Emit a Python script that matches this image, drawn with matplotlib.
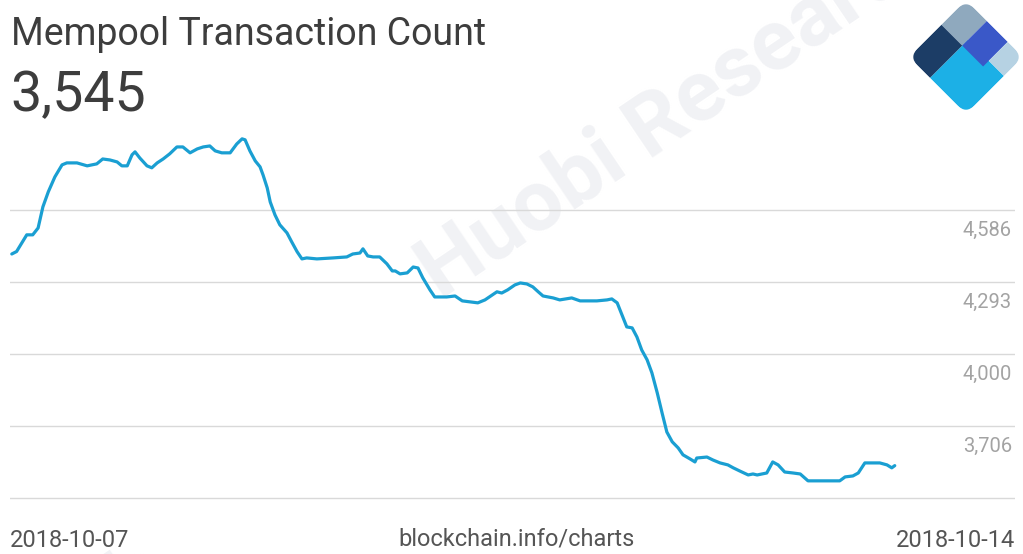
import matplotlib
matplotlib.use("Agg")
import matplotlib.pyplot as plt
from matplotlib.patches import Rectangle, FancyBboxPatch
from matplotlib.transforms import Affine2D, ScaledTranslation

# --- data ---------------------------------------------------------------
hours = [0.3, 1.1, 2.8, 3.8, 4.7, 5.5, 6.4, 7.5, 8.7, 9.5, 11.2, 12.9, 14.5,
         15.5, 16.7, 17.9, 18.7, 19.6, 20.4, 20.9, 21.7, 22.9, 23.7, 24.6,
         25.6, 26.7, 27.9, 28.9, 30.1, 31.3, 32.3, 33.4, 34.3, 35.4, 36.8,
         37.9, 38.8, 39.3, 40.1, 41.0, 41.8, 42.3, 43.0, 43.5, 44.3, 45.1,
         46.3, 47.1, 48.0, 48.8, 49.6, 51.3, 54.0, 56.3, 57.3, 58.5, 59.0,
         59.8, 60.7, 61.8, 63.0, 63.9, 64.4, 65.2, 66.4, 67.4, 68.2, 69.0,
         70.2, 71.0, 73.0, 74.4, 75.6, 76.9, 78.2, 79.4, 80.6, 81.4, 82.2,
         83.2, 84.4, 85.3, 86.4, 87.4, 88.3, 89.1, 90.8, 91.9, 93.9, 95.3,
         98.1, 99.8, 100.6, 101.5, 102.3, 103.1, 104.0, 104.8, 105.6, 106.5,
         107.3, 108.2, 109.0, 109.8, 110.7, 111.7, 112.5, 113.7, 114.5, 114.8,
         116.5, 117.5, 118.7, 120.0, 120.9, 122.0, 123.4, 124.2, 124.9, 126.5,
         127.5, 128.4, 129.5, 130.9, 132.1, 133.4, 135.4, 138.7, 139.6, 140.9,
         141.8, 142.9, 145.4, 146.6, 147.4, 147.9]
tx_count = [4407, 4417, 4485, 4485, 4513, 4599, 4660, 4721, 4770, 4778, 4778,
            4766, 4774, 4794, 4790, 4782, 4766, 4766, 4811, 4823, 4798, 4766,
            4758, 4778, 4794, 4815, 4843, 4843, 4819, 4835, 4843, 4847, 4827,
            4819, 4819, 4855, 4876, 4872, 4827, 4786, 4762, 4729, 4676, 4619,
            4566, 4526, 4493, 4456, 4416, 4387, 4391, 4387, 4391, 4395, 4407,
            4411, 4428, 4399, 4395, 4395, 4367, 4338, 4338, 4326, 4330, 4354,
            4350, 4310, 4261, 4232, 4232, 4236, 4216, 4212, 4208, 4220, 4240,
            4253, 4248, 4261, 4281, 4289, 4285, 4273, 4253, 4236, 4228, 4220,
            4228, 4216, 4216, 4220, 4224, 4208, 4159, 4110, 4106, 4069, 4016,
            3976, 3923, 3841, 3760, 3682, 3642, 3617, 3589, 3572, 3560, 3576,
            3580, 3568, 3556, 3548, 3536, 3523, 3507, 3511, 3507, 3515, 3560,
            3548, 3519, 3515, 3511, 3483, 3483, 3483, 3499, 3503, 3515, 3556,
            3556, 3548, 3536, 3545]

grid_values = [4586, 4293, 4000, 3706, 3413]
value_labels = ["4,586", "4,293", "4,000", "3,706"]
date_ticks = [0, 168]
date_labels = ["2018-10-07", "2018-10-14"]
title = "Mempool Transaction Count"
latest = "3,545"
source = "blockchain.info/charts"

# --- figure -------------------------------------------------------------
W, H = 1023, 554
fig = plt.figure(figsize=(W / 100, H / 100), dpi=100)
fig.patch.set_facecolor("white")
plt.rcParams["font.family"] = ["Roboto", "DejaVu Sans"]

# faint diagonal watermark behind the plot
wm_kw = dict(fontsize=62, fontweight="bold", color="#f1f2f5",
             rotation=34, rotation_mode="anchor", zorder=-5)
fig.text(440 / W, 1 - 300 / H, "Huobi Research", ha="left", va="baseline", **wm_kw)
fig.text(172 / W, 1 - 585 / H, "Huobi Research", ha="right", va="baseline", **wm_kw)

ax = fig.add_axes([10 / W, 1 - 500 / H, 1005 / W, 370 / H])
ax.set_facecolor("none")
ax.plot(hours, tx_count, color="#1a9fd2", lw=2.3, solid_joinstyle="round",
        solid_capstyle="round", zorder=3)

ax.set_xlim(0, 168)
ax.set_ylim(3405, 4912)
ax.set_yticks(grid_values)
ax.yaxis.grid(True, color="#d9d9d9", lw=1.0)
ax.tick_params(axis="y", length=0, labelleft=False)
for s in ax.spines.values():
    s.set_visible(False)

ax.set_xticks(date_ticks)
ax.set_xticklabels(date_labels, fontsize=17, color="#555555")
ax.tick_params(axis="x", length=0, pad=21)
lbls = ax.get_xticklabels()
lbls[0].set_ha("left")
lbls[-1].set_ha("right")

# value labels sit just below their gridline on the right edge
below = ax.get_yaxis_transform() + ScaledTranslation(0, -0.20, fig.dpi_scale_trans)
for v, t in zip(grid_values, value_labels):
    ax.text(0.997, v, t, transform=below, ha="right", va="center",
            fontsize=14.5, color="#a3a3a3")

fig.text(516 / W, 1 - 539 / H, source, ha="center", va="center",
         fontsize=17, color="#555555")

fig.text(11 / W, 1 - 45 / H, title, ha="left", va="baseline",
         fontsize=27, color="#3d3d3d")
fig.text(10 / W, 1 - 111 / H, latest, ha="left", va="baseline",
         fontsize=40, color="#3d3d3d")

# diamond logo, built on a 3x3 grid rotated by 45 degrees
step = 19.0
cx, top = 966.0, H - 0.0
logo_tf = Affine2D.from_values(step, -step, -step, -step, cx, top)
clip = FancyBboxPatch((0, 0), 3, 3, boxstyle="round,pad=0,rounding_size=0.45",
                      transform=logo_tf, facecolor="none", edgecolor="none")
fig.add_artist(clip)
pieces = [((1.1, 1.0), 1.9, 2.0, "#1cb0e6"),
          ((0.0, 0.0), 1.1, 1.3, "#8fa9be"),
          ((1.1, 0.0), 1.1, 1.3, "#3a58c8"),
          ((2.2, 0.0), 0.8, 1.0, "#b6d2e3"),
          ((0.0, 1.3), 1.1, 1.7, "#1c3d66")]
for xy, w, h, c in pieces:
    r = Rectangle(xy, w, h, transform=logo_tf, facecolor=c, edgecolor="none")
    r.set_clip_path(clip)
    fig.add_artist(r)

fig.savefig("out.png", dpi=100, facecolor="white")
